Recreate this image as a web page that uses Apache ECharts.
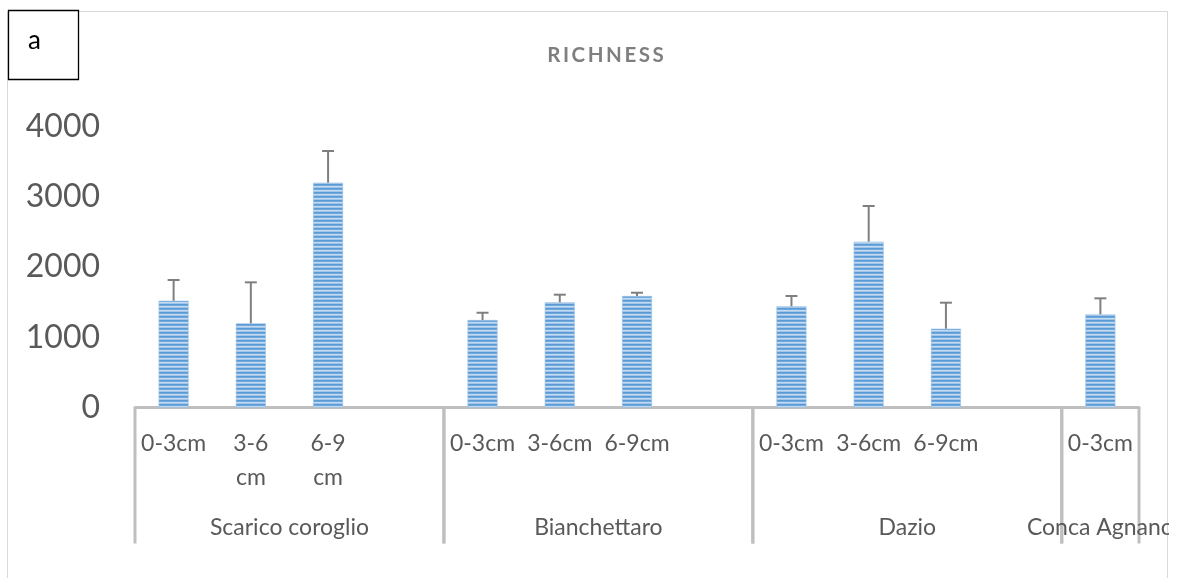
<!DOCTYPE html>
<html>
<head>
<meta charset="utf-8">
<script src="https://cdn.jsdelivr.net/npm/echarts@6/dist/echarts.min.js"></script>
<style>
  html, body { margin: 0; padding: 0; background: #ffffff; overflow: hidden; }
  #chart { position: absolute; left: 0; top: 0; width: 1169px; height: 578px; }
</style>
</head>
<body>
<div id="chart"></div>
<script>
// Sampling depth classes per site (empty slots separate the sites)
const categories = ['0-3cm', '3-6\ncm', '6-9\ncm', '', '0-3cm', '3-6cm', '6-9cm', '', '0-3cm', '3-6cm', '6-9cm', '', '0-3cm'];
// Mean richness per depth class
const richness = [1521, 1199, 3202, null, 1246, 1499, 1588, null, 1442, 2362, 1123, null, 1327];
// Positive error (standard deviation) per depth class
const errors = [295, 584, 452, null, 104, 108, 47, null, 146, 508, 370, null, 228];
// Sites and how many category slots each one spans
const siteNames = ['Scarico coroglio', 'Bianchettaro', 'Dazio', 'Conca Agnano'];
const siteSpans = [4, 4, 4, 1];
// Value axis ticks
const yTicks = [0, 1000, 2000, 3000, 4000];

const FONT = 'Lato, "Open Sans", sans-serif';
const TEXT = '#595959';
const AXIS = '#bfbfbf';

// Horizontal stripe fill for the bars
function stripePattern() {
  const c = document.createElement('canvas');
  c.width = 4; c.height = 4;
  const g = c.getContext('2d');
  const rows = ['#5b9bd5', '#6ea8dd', '#c4daf1', '#a3c5e9'];
  rows.forEach((col, i) => { g.fillStyle = col; g.fillRect(0, i, 4, 1); });
  return { image: c, repeat: 'repeat' };
}

// Site spans as [firstIndex, 0, slotCount]
const siteData = [];
let start = 0;
siteSpans.forEach(s => { siteData.push([start, 0, s]); start += s; });

const errData = [];
richness.forEach((v, i) => { if (v != null) errData.push([i, v, errors[i]]); });

const chart = echarts.init(document.getElementById('chart'), null, { renderer: 'canvas' });

chart.setOption({
  animation: false,
  backgroundColor: '#ffffff',
  textStyle: { fontFamily: FONT },
  grid: { left: 135, right: 30, top: 126.7, bottom: 170.5, containLabel: false },
  graphic: [
    { type: 'rect', shape: { x: 7.5, y: 11.5, width: 1160, height: 620 },
      style: { fill: 'none', stroke: '#d9d9d9', lineWidth: 1 }, z: 0 },
    { type: 'rect', shape: { x: 8.5, y: 10.5, width: 70, height: 69 },
      style: { fill: '#ffffff', stroke: '#000000', lineWidth: 1.3 }, z: 10 },
    { type: 'text', x: 34.5, y: 41, z: 11,
      style: { text: 'a', font: '26px ' + FONT, fill: '#000000', align: 'center', verticalAlign: 'middle' } },
    { type: 'text', x: 605.5, y: 55, z: 11,
      style: { text: 'RICHNESS'.split('').join('\u2009'), font: 'bold 20.5px ' + FONT, fill: '#7f7f7f',
        align: 'center', verticalAlign: 'middle' } }
  ],
  xAxis: {
    type: 'category',
    data: categories,
    axisLine: { show: true, lineStyle: { color: AXIS, width: 3 } },
    axisTick: { show: false },
    axisLabel: { color: TEXT, fontSize: 23, fontFamily: FONT, margin: 19, lineHeight: 34, interval: 0 }
  },
  yAxis: {
    type: 'value',
    min: 0, max: 4000, interval: 1000,
    axisLine: { show: false },
    axisTick: { show: false },
    splitLine: { show: false },
    axisLabel: {
      color: TEXT, fontSize: 32, fontFamily: FONT, margin: 35,
      formatter: v => (yTicks.indexOf(v) >= 0 ? String(v) : '')
    }
  },
  series: [
    {
      type: 'bar',
      data: richness,
      barWidth: 30,
      itemStyle: { color: stripePattern(), borderColor: '#9dc3e6', borderWidth: 0.6 },
      z: 2
    },
    {
      // error bars: vertical whisker with a cap
      type: 'custom',
      data: errData,
      encode: { x: 0, y: 1 },
      z: 3,
      renderItem: function (params, api) {
        const base = api.coord([api.value(0), api.value(1)]);
        const top = api.coord([api.value(0), api.value(1) + api.value(2)]);
        const cap = 6;
        const style = { stroke: '#7f7f7f', lineWidth: 2 };
        return {
          type: 'group',
          children: [
            { type: 'line', shape: { x1: base[0], y1: base[1], x2: top[0], y2: top[1] }, style },
            { type: 'line', shape: { x1: top[0] - cap, y1: top[1], x2: top[0] + cap, y2: top[1] }, style }
          ]
        };
      }
    },
    {
      // site labels and separators under the depth labels
      type: 'custom',
      data: siteData,
      encode: { x: 0, y: 1 },
      z: 3,
      renderItem: function (params, api) {
        const first = api.value(0);
        const span = api.value(2);
        const c = api.coord([first, 0]);
        const bw = api.size([1, 0])[0];
        const left = c[0] - bw / 2;
        const right = left + span * bw;
        const y0 = c[1];
        const lineStyle = { stroke: AXIS, lineWidth: 3 };
        const seg = x => ({ type: 'line', shape: { x1: x, y1: y0, x2: x, y2: y0 + 136 }, style: lineStyle });
        return {
          type: 'group',
          children: [
            seg(left), seg(right),
            { type: 'text', x: (left + right) / 2, y: y0 + 120,
              style: { text: siteNames[params.dataIndex], font: '23px ' + FONT, fill: TEXT,
                align: 'center', verticalAlign: 'middle' } }
          ]
        };
      }
    }
  ]
});
</script>
</body>
</html>
